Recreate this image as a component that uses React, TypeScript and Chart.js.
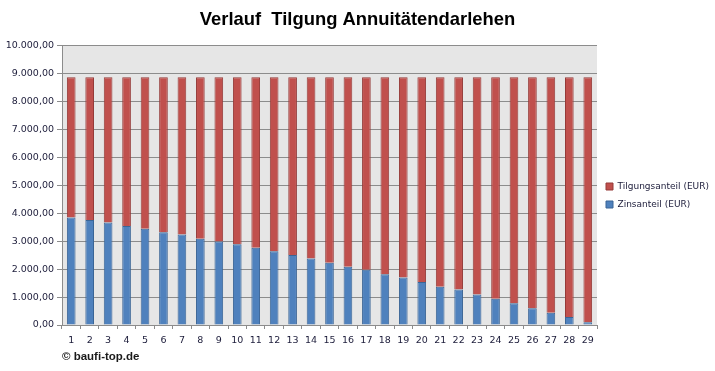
import React, { useEffect, useRef } from "react";
import { Chart, registerables } from "chart.js";

Chart.register(...registerables);

const years = ["1","2","3","4","5","6","7","8","9","10","11","12","13","14","15","16","17","18","19","20","21","22","23","24","25","26","27","28","29"];

const zinsanteil = [3850, 3760, 3670, 3550, 3450, 3320, 3240, 3090, 2990, 2890, 2770, 2640, 2510, 2380, 2230, 2090, 1980, 1820, 1700, 1540, 1370, 1270, 1090, 940, 780, 600, 440, 290, 100];

const tilgungsanteil = [5030, 5120, 5210, 5330, 5430, 5560, 5640, 5790, 5890, 5990, 6110, 6240, 6370, 6500, 6650, 6790, 6900, 7060, 7180, 7340, 7510, 7610, 7790, 7940, 8100, 8280, 8440, 8590, 8780];

const titleText = "Verlauf  Tilgung Annuitätendarlehen";
const creditText = "© baufi-top.de";
const seriesNames = ["Zinsanteil (EUR)", "Tilgungsanteil (EUR)"];

function formatDE(v: number): string {
  const fixed = Math.abs(v).toFixed(2);
  const [intPart, dec] = fixed.split(".");
  const withDots = intPart.replace(/\B(?=(\d{3})+(?!\d))/g, ".");
  return (v < 0 ? "-" : "") + withDots + "," + dec;
}

const tickFont = { family: '"DejaVu Sans", Verdana, sans-serif', size: 9.5 };
const tickColor = "#1c1c3a";

const bgPlugin = {
  id: "plotBg",
  beforeDraw(chart: any) {
    const { ctx, chartArea } = chart;
    if (!chartArea) return;
    ctx.save();
    ctx.fillStyle = "#e6e6e6";
    ctx.fillRect(chartArea.left, chartArea.top, chartArea.right - chartArea.left, chartArea.bottom - chartArea.top);
    ctx.restore();
  },
};

const creditPlugin = {
  id: "credit",
  afterDraw(chart: any) {
    const { ctx, chartArea } = chart;
    ctx.save();
    ctx.font = 'bold 11.5px "Liberation Sans", Arial, sans-serif';
    ctx.fillStyle = "#1a1a1a";
    ctx.textBaseline = "middle";
    ctx.textAlign = "left";
    ctx.fillText(creditText, chartArea.left, 357);
    ctx.restore();
  },
};

export default function App() {
  const ref = useRef<HTMLCanvasElement | null>(null);

  useEffect(() => {
    document.body.style.margin = "0";
    const canvas = ref.current;
    if (!canvas) return;
    const chart = new Chart(canvas, {
      type: "bar",
      data: {
        labels: years,
        datasets: [
          {
            label: seriesNames[0],
            data: zinsanteil,
            backgroundColor: "#4f81bd",
            borderColor: "#3b6596",
            borderWidth: 1,
            barPercentage: 0.47,
            categoryPercentage: 1,
          },
          {
            label: seriesNames[1],
            data: tilgungsanteil,
            backgroundColor: "#c0504d",
            borderColor: "#953b39",
            borderWidth: 1,
            barPercentage: 0.47,
            categoryPercentage: 1,
          },
        ],
      },
      options: {
        responsive: false,
        animation: false,
        devicePixelRatio: 1,
        layout: { padding: { left: 0, right: 0, top: 0, bottom: 22 } },
        plugins: {
          title: {
            display: true,
            text: titleText,
            color: "#000000",
            font: { family: '"Liberation Sans", Arial, sans-serif', size: 18.4, weight: "bold", lineHeight: 1.2 },
            padding: { top: 8.5, bottom: 15.4 },
          },
          legend: {
            position: "right",
            reverse: true,
            maxWidth: 118,
            title: {
              display: true,
              text: " ",
              font: { size: 10, lineHeight: 1.2 },
              padding: { top: 30, bottom: 0 },
            },
            labels: {
              boxWidth: 7,
              boxHeight: 7,
              padding: 9,
              color: tickColor,
              font: { family: '"DejaVu Sans", Verdana, sans-serif', size: 9 },
            },
          },
          tooltip: { enabled: false },
        },
        scales: {
          x: {
            stacked: true,
            grid: {
              offset: true,
              drawOnChartArea: false,
              drawTicks: true,
              tickLength: 4,
              color: "#8c8c8c",
            },
            border: { display: true, color: "#8c8c8c" },
            ticks: { color: tickColor, font: tickFont, padding: 6, maxRotation: 0, autoSkip: false },
            afterFit(scale: any) {
              scale.height = 24;
            },
          },
          y: {
            stacked: true,
            min: 0,
            max: 10000,
            grid: { color: "#8c8c8c", tickLength: 5, drawTicks: true },
            border: { display: true, color: "#8c8c8c" },
            ticks: {
              stepSize: 1000,
              color: tickColor,
              font: tickFont,
              padding: 3,
              callback: (v: any) => formatDE(Number(v)),
            },
            afterFit(scale: any) {
              scale.width = 62;
            },
          },
        },
      },
      plugins: [bgPlugin, creditPlugin],
    });
    return () => chart.destroy();
  }, []);

  return (
    <div style={{ width: 715, height: 371 }}>
      <canvas ref={ref} width={715} height={371} />
    </div>
  );
}
